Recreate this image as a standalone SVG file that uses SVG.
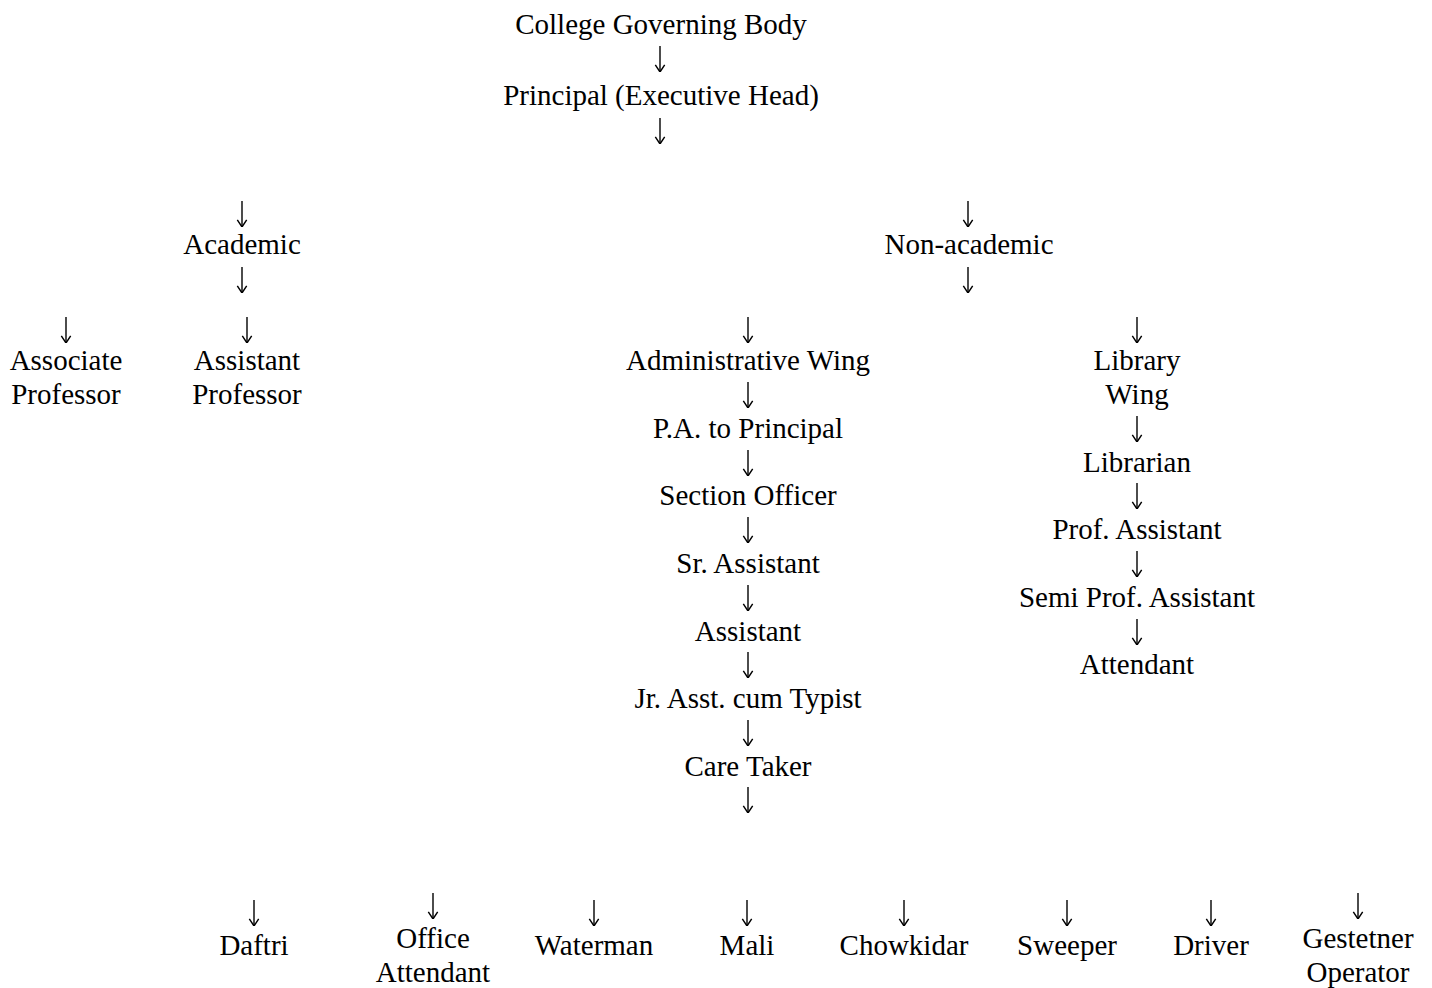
<svg xmlns="http://www.w3.org/2000/svg" width="1432" height="988" viewBox="0 0 1432 988">
<style>
text{font-family:"Liberation Serif","Times New Roman",serif;font-size:29px;fill:#000;text-anchor:middle}
.c line{stroke:#000;stroke-width:1.4;marker-end:url(#ah)}
</style>
<defs>
<marker id="ah" markerUnits="userSpaceOnUse" viewBox="0 0 10 12" refX="9.5" refY="6" markerWidth="9" markerHeight="12" orient="auto">
<path d="M1.5,0.8 L9.5,6 L1.5,11.2" fill="none" stroke="#000" stroke-width="1.6"/>
</marker>
</defs>
<rect width="1432" height="988" fill="#fff"/>
<g id="connectors" class="c">
<line x1="660" y1="46" x2="660" y2="72"/>
<line x1="660" y1="118" x2="660" y2="144"/>
<line x1="242" y1="201" x2="242" y2="227"/>
<line x1="968" y1="201" x2="968" y2="227"/>
<line x1="242" y1="267" x2="242" y2="293"/>
<line x1="968" y1="267" x2="968" y2="293"/>
<line x1="66" y1="317" x2="66" y2="343"/>
<line x1="247" y1="317" x2="247" y2="343"/>
<line x1="748" y1="317" x2="748" y2="343"/>
<line x1="1137" y1="317" x2="1137" y2="343"/>
<line x1="748" y1="382" x2="748" y2="408"/>
<line x1="748" y1="450" x2="748" y2="476"/>
<line x1="748" y1="517" x2="748" y2="543"/>
<line x1="748" y1="585" x2="748" y2="611"/>
<line x1="748" y1="652" x2="748" y2="678"/>
<line x1="748" y1="720" x2="748" y2="746"/>
<line x1="748" y1="787" x2="748" y2="813"/>
<line x1="1137" y1="416" x2="1137" y2="442"/>
<line x1="1137" y1="483" x2="1137" y2="509"/>
<line x1="1137" y1="551" x2="1137" y2="577"/>
<line x1="1137" y1="619" x2="1137" y2="645"/>
<line x1="254" y1="900" x2="254" y2="926"/>
<line x1="433" y1="893" x2="433" y2="919"/>
<line x1="594" y1="900" x2="594" y2="926"/>
<line x1="747" y1="900" x2="747" y2="926"/>
<line x1="904" y1="900" x2="904" y2="926"/>
<line x1="1067" y1="900" x2="1067" y2="926"/>
<line x1="1211" y1="900" x2="1211" y2="926"/>
<line x1="1358" y1="893" x2="1358" y2="919"/>
</g>
<g id="governing-body"><text x="661" y="34">College Governing Body</text></g>
<g id="principal"><text x="661" y="105">Principal (Executive Head)</text></g>
<g id="academic"><text x="242" y="254">Academic</text></g>
<g id="non-academic"><text x="969" y="254">Non-academic</text></g>
<g id="associate-professor"><text x="66" y="370">Associate</text><text x="66" y="404">Professor</text></g>
<g id="assistant-professor"><text x="247" y="370">Assistant</text><text x="247" y="404">Professor</text></g>
<g id="administrative-wing"><text x="748" y="370">Administrative Wing</text></g>
<g id="pa-principal"><text x="748" y="438">P.A. to Principal</text></g>
<g id="section-officer"><text x="748" y="505">Section Officer</text></g>
<g id="sr-assistant"><text x="748" y="573">Sr. Assistant</text></g>
<g id="assistant"><text x="748" y="641">Assistant</text></g>
<g id="jr-asst"><text x="748" y="708">Jr. Asst. cum Typist</text></g>
<g id="care-taker"><text x="748" y="776">Care Taker</text></g>
<g id="library-wing"><text x="1137" y="370">Library</text><text x="1137" y="404">Wing</text></g>
<g id="librarian"><text x="1137" y="472">Librarian</text></g>
<g id="prof-assistant"><text x="1137" y="539">Prof. Assistant</text></g>
<g id="semi-prof-assistant"><text x="1137" y="607">Semi Prof. Assistant</text></g>
<g id="attendant"><text x="1137" y="674">Attendant</text></g>
<g id="daftri"><text x="254" y="955">Daftri</text></g>
<g id="office-attendant"><text x="433" y="948">Office</text><text x="433" y="982">Attendant</text></g>
<g id="waterman"><text x="594" y="955">Waterman</text></g>
<g id="mali"><text x="747" y="955">Mali</text></g>
<g id="chowkidar"><text x="904" y="955">Chowkidar</text></g>
<g id="sweeper"><text x="1067" y="955">Sweeper</text></g>
<g id="driver"><text x="1211" y="955">Driver</text></g>
<g id="gestetner-operator"><text x="1358" y="948">Gestetner</text><text x="1358" y="982">Operator</text></g>
</svg>
